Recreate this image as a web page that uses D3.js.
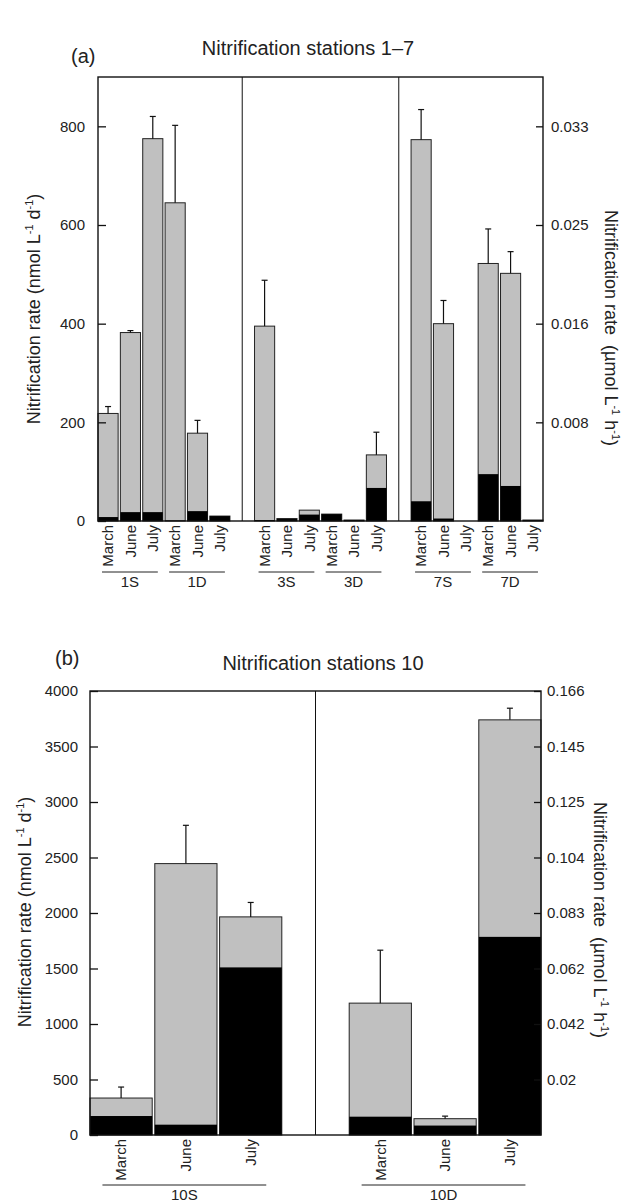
<!DOCTYPE html>
<html>
<head>
<meta charset="utf-8">
<script src="https://cdn.jsdelivr.net/npm/d3@7"></script>
<style>
  body { margin: 0; background: #fff; }
  text { font-family: "Liberation Sans", Arial, sans-serif; fill: #222; }
</style>
</head>
<body>
<div id="chart"></div>
<script>
// months shown under every station
const months = ["March", "June", "July"];

// panel (a): stations 1-7
const stationsA = ["1S", "1D", "3S", "3D", "7S", "7D"];
const sectionsA = [["1S", "1D"], ["3S", "3D"], ["7S", "7D"]];
// total rate (grey bar), nmol L-1 d-1, per station x month
const totalA = [[218, 382, 775], [645, 178, 10], [395, 5, 22], [14, 2, 134], [773, 400, 0], [522, 502, 2]];
// black part of the bar
const blackA = [[8, 18, 18], [1, 20, 10], [2, 4, 13], [14, 2, 67], [40, 5, 0], [95, 71, 2]];
// top of the error bar (null = none)
const errA = [[232, 386, 820], [802, 204, null], [488, null, null], [null, null, 180], [834, 447, null], [592, 546, null]];
const leftTicksA = [0, 200, 400, 600, 800];
const rightTicksA = [200, 400, 600, 800];
const rightLabelsA = ["0.008", "0.016", "0.025", "0.033"];

// panel (b): station 10
const stationsB = ["10S", "10D"];
const sectionsB = [["10S"], ["10D"]];
const totalB = [[333, 2445, 1965], [1188, 147, 3740]];
const blackB = [[171, 93, 1510], [165, 85, 1785]];
const errB = [[432, 2790, 2095], [1665, 170, 3845]];
const leftTicksB = [0, 500, 1000, 1500, 2000, 2500, 3000, 3500, 4000];
const rightTicksB = [500, 1000, 1500, 2000, 2500, 3000, 3500, 4000];
const rightLabelsB = ["0.02", "0.042", "0.062", "0.083", "0.104", "0.125", "0.145", "0.166"];

const W = 625, H = 1203;
const svg = d3.select("#chart").append("svg")
    .attr("width", W)
    .attr("height", H);

// draws one panel inside a box
function drawPanel(p) {
    const g = svg.append("g");

    // slot list: bars of each section, one empty slot between sections
    const domain = [];
    p.sections.forEach((sec, i) => {
        sec.forEach(st => months.forEach(m => domain.push(st + "|" + m)));
        if (i < p.sections.length - 1) domain.push("gap" + i);
    });

    const x = d3.scaleBand()
        .domain(domain)
        .range([p.left, p.right])
        .paddingInner(p.pad)
        .paddingOuter(0);
    const y = d3.scaleLinear()
        .domain([0, p.yMax])
        .range([p.bottom, p.top]);
    const bw = x.bandwidth();

    // flat list of bars
    const bars = [];
    p.stations.forEach((st, i) => months.forEach((m, j) => bars.push({
        key: st + "|" + m, month: m,
        total: p.total[i][j], black: p.black[i][j], err: p.err[i][j]
    })));

    // grey bar = total
    g.append("g").selectAll("rect")
        .data(bars)
        .join("rect")
        .attr("x", d => x(d.key))
        .attr("width", bw)
        .attr("y", d => y(d.total))
        .attr("height", d => y(0) - y(d.total))
        .attr("fill", "#c0c0c0")
        .attr("stroke", "#222")
        .attr("stroke-width", 1);

    // black bar on the bottom
    g.append("g").selectAll("rect")
        .data(bars)
        .join("rect")
        .attr("x", d => x(d.key))
        .attr("width", bw)
        .attr("y", d => y(d.black))
        .attr("height", d => y(0) - y(d.black))
        .attr("fill", "#000");

    // error bars, upper side only
    const eg = g.append("g").attr("stroke", "#111").attr("stroke-width", 1.2);
    bars.filter(d => d.err != null).forEach(d => {
        const cx = x(d.key) + bw / 2;
        eg.append("line").attr("x1", cx).attr("x2", cx)
            .attr("y1", y(d.total)).attr("y2", y(d.err));
        eg.append("line").attr("x1", cx - 3).attr("x2", cx + 3)
            .attr("y1", y(d.err)).attr("y2", y(d.err));
    });

    // vertical dividers between the station blocks
    g.append("g").selectAll("line")
        .data(domain.filter(k => k.startsWith("gap")))
        .join("line")
        .attr("x1", k => x(k) + bw / 2)
        .attr("x2", k => x(k) + bw / 2)
        .attr("y1", p.top)
        .attr("y2", p.bottom)
        .attr("stroke", "#111")
        .attr("stroke-width", 1);

    // frame
    g.append("rect")
        .attr("x", p.left).attr("y", p.top)
        .attr("width", p.right - p.left).attr("height", p.bottom - p.top)
        .attr("fill", "none")
        .attr("stroke", "#111")
        .attr("stroke-width", 1.4);

    // left axis, ticks pointing inside
    const la = g.append("g")
        .attr("transform", `translate(${p.left},0)`)
        .call(d3.axisLeft(y).tickValues(p.leftTicks).tickSize(-8).tickPadding(p.leftPad)
            .tickFormat(d3.format("d")));
    la.select(".domain").remove();

    // right axis in umol L-1 h-1
    const ra = g.append("g")
        .attr("transform", `translate(${p.right},0)`)
        .call(d3.axisRight(y).tickValues(p.rightTicks).tickSize(-7).tickPadding(p.rightPad)
            .tickFormat((d, i) => p.rightLabels[i]));
    ra.select(".domain").remove();

    [la, ra].forEach(a => {
        a.attr("font-size", 15).attr("font-family", null);
        a.selectAll("text").attr("fill", "#222");
        a.selectAll("line").attr("stroke", "#111").attr("stroke-width", 1.3);
    });

    // month labels, rotated
    g.append("g").selectAll("text")
        .data(bars)
        .join("text")
        .attr("transform", d => `translate(${x(d.key) + bw / 2},${p.bottom + 4}) rotate(-90)`)
        .attr("text-anchor", "end")
        .attr("dy", "0.35em")
        .attr("font-size", 15)
        .text(d => d.month);

    // station underlines and names
    p.stations.forEach(st => {
        const x1 = x(st + "|" + months[0]) + bw * 0.2;
        const x2 = x(st + "|" + months[2]) + bw * 0.75;
        g.append("line")
            .attr("x1", x1).attr("x2", x2)
            .attr("y1", p.bottom + p.lineOff).attr("y2", p.bottom + p.lineOff)
            .attr("stroke", "#222").attr("stroke-width", 1);
        g.append("text")
            .attr("x", (x1 + x2) / 2)
            .attr("y", p.bottom + p.lineOff + 15)
            .attr("text-anchor", "middle")
            .attr("font-size", 15)
            .text(st);
    });

    // titles
    g.append("text")
        .attr("x", p.titleX).attr("y", p.titleY)
        .attr("text-anchor", "middle")
        .attr("font-size", 20)
        .text(p.title);
    g.append("text")
        .attr("x", p.letterX).attr("y", p.letterY)
        .attr("font-size", 20)
        .text(p.letter);

    // axis titles
    const lt = g.append("text")
        .attr("transform", `translate(${p.lLabX},${p.lLabY}) rotate(-90)`)
        .attr("text-anchor", "middle")
        .attr("font-size", 18);
    lt.append("tspan").text("Nitrification rate (nmol L");
    lt.append("tspan").attr("font-size", 11).attr("dy", -7).text("-1");
    lt.append("tspan").attr("dy", 7).text(" d");
    lt.append("tspan").attr("font-size", 11).attr("dy", -7).text("-1");
    lt.append("tspan").attr("dy", 7).text(")");

    const rt = g.append("text")
        .attr("transform", `translate(${p.rLabX},${p.rLabY}) rotate(90)`)
        .attr("text-anchor", "middle")
        .attr("font-size", 18)
        .attr("xml:space", "preserve");
    rt.append("tspan").text("Nitrification rate  (\u00b5mol L");
    rt.append("tspan").attr("font-size", 11).attr("dy", -7).text("-1");
    rt.append("tspan").attr("dy", 7).text(" h");
    rt.append("tspan").attr("font-size", 11).attr("dy", -7).text("-1");
    rt.append("tspan").attr("dy", 7).text(")");
}

drawPanel({
    stations: stationsA, sections: sectionsA,
    total: totalA, black: blackA, err: errA,
    left: 98, right: 543, top: 77, bottom: 521, yMax: 900, pad: 0.1,
    leftTicks: leftTicksA, rightTicks: rightTicksA, rightLabels: rightLabelsA,
    leftPad: 13, rightPad: 8, lineOff: 51,
    title: "Nitrification stations 1\u20137", titleX: 308, titleY: 55,
    letter: "(a)", letterX: 71, letterY: 63,
    lLabX: 40, lLabY: 309, rLabX: 605, rLabY: 328
});

drawPanel({
    stations: stationsB, sections: sectionsB,
    total: totalB, black: blackB, err: errB,
    left: 90, right: 541, top: 691, bottom: 1135, yMax: 4000, pad: 0.04,
    leftTicks: leftTicksB, rightTicks: rightTicksB, rightLabels: rightLabelsB,
    leftPad: 12, rightPad: 6, lineOff: 50,
    title: "Nitrification stations 10", titleX: 323, titleY: 670,
    letter: "(b)", letterX: 55, letterY: 665,
    lLabX: 31, lLabY: 912, rLabX: 594, rLabY: 920
});
</script>
</body>
</html>
